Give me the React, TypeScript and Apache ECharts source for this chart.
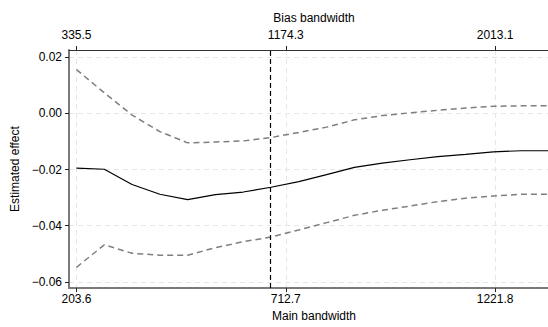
import React, { useEffect, useRef } from "react";
import * as echarts from "echarts";

const mainBandwidth = [203.6, 271.2, 338.8, 406.4, 474.0, 541.6, 609.2, 676.8, 744.4, 812.0, 879.6, 947.2, 1014.8, 1082.4, 1150.0, 1217.6, 1285.2, 1352.8];
const estimate = [-0.0195, -0.0199, -0.0253, -0.0288, -0.0307, -0.0289, -0.028, -0.0263, -0.0243, -0.0218, -0.0192, -0.0177, -0.0165, -0.0154, -0.0146, -0.0137, -0.0133, -0.0133];
const upperCI = [0.0156, 0.0073, -0.0006, -0.0065, -0.0105, -0.0102, -0.0098, -0.0086, -0.0068, -0.0049, -0.0023, -0.0008, 0.0002, 0.0011, 0.0019, 0.0025, 0.0027, 0.0027];
const lowerCI = [-0.0548, -0.0468, -0.0498, -0.0505, -0.0505, -0.0478, -0.0457, -0.044, -0.0415, -0.0389, -0.0363, -0.0345, -0.033, -0.0314, -0.0302, -0.0294, -0.0288, -0.0288];
const mainTicks = [203.6, 712.7, 1221.8];
const biasTicks = [335.5, 1174.3, 2013.1];
const yTicks = [-0.06, -0.04, -0.02, 0, 0.02];
const selectedBandwidth = 675;

const X_MIN = 185.4;
const X_MAX = 1377.3;
const BIAS_RATIO = 1.6477;
const FONT = "'Liberation Sans', Arial, Helvetica, sans-serif";

export default function App() {
  const ref = useRef<HTMLDivElement>(null);
  useEffect(() => {
    if (!ref.current) return;
    const chart = echarts.init(ref.current, null, { renderer: "svg" });
    const pairs = (ys: number[]) => mainBandwidth.map((x, i) => [x, ys[i]]);
    const textStyle = { fontFamily: FONT, fontSize: 12, color: "#000" };
    chart.setOption({
      animation: false,
      backgroundColor: "#fff",
      textStyle: { fontFamily: FONT },
      grid: { left: 69, top: 50, right: 1, bottom: 35, containLabel: false },
      xAxis: [
        {
          type: "value",
          position: "bottom",
          min: X_MIN,
          max: X_MAX,
          name: "Main bandwidth",
          nameLocation: "middle",
          nameGap: 21,
          nameTextStyle: textStyle,
          axisLine: { show: true, onZero: false, lineStyle: { color: "#7a7a7a", width: 2 } },
          axisTick: { show: true, length: 4, customValues: mainTicks, lineStyle: { color: "#222", width: 1 } },
          axisLabel: { customValues: mainTicks, margin: 5, ...textStyle, formatter: (v: number) => v.toFixed(1) },
          splitLine: { show: true, lineStyle: { color: "#e6e6e6", type: [5, 4], width: 1 } },
        },
        {
          type: "value",
          position: "top",
          min: X_MIN * BIAS_RATIO,
          max: X_MAX * BIAS_RATIO,
          name: "Bias bandwidth",
          nameLocation: "middle",
          nameGap: 26,
          nameTextStyle: textStyle,
          axisLine: { show: true, onZero: false, lineStyle: { color: "#333", width: 1 } },
          axisTick: { show: true, length: 4, customValues: biasTicks, lineStyle: { color: "#222", width: 1 } },
          axisLabel: { customValues: biasTicks, margin: 9, ...textStyle, formatter: (v: number) => v.toFixed(1) },
          splitLine: { show: false },
        },
      ],
      yAxis: {
        type: "value",
        min: -0.0622,
        max: 0.02256,
        name: "Estimated effect",
        nameLocation: "middle",
        nameGap: 45,
        nameTextStyle: textStyle,
        axisLine: { show: true, onZero: false, lineStyle: { color: "#7a7a7a", width: 2 } },
        axisTick: { show: true, length: 4, customValues: yTicks, lineStyle: { color: "#222", width: 1 } },
        axisLabel: {
          customValues: yTicks,
          margin: 7,
          ...textStyle,
          formatter: (v: number) => v.toFixed(2).replace("-", "\u2212"),
        },
        splitLine: { show: true, lineStyle: { color: "#e6e6e6", type: [5, 4], width: 1 } },
      },
      series: [
        {
          type: "line",
          name: "Upper CI",
          data: pairs(upperCI),
          symbol: "none",
          lineStyle: { color: "#7f7f7f", width: 1.5, type: [6, 4] },
        },
        {
          type: "line",
          name: "Lower CI",
          data: pairs(lowerCI),
          symbol: "none",
          lineStyle: { color: "#7f7f7f", width: 1.5, type: [6, 4] },
        },
        {
          type: "line",
          name: "Estimate",
          data: pairs(estimate),
          symbol: "none",
          lineStyle: { color: "#000", width: 1.2 },
          markLine: {
            silent: true,
            symbol: "none",
            label: { show: false },
            lineStyle: { color: "#000", type: [5, 3], width: 1.2 },
            data: [{ xAxis: selectedBandwidth }],
          },
        },
      ],
    });
    return () => chart.dispose();
  }, []);
  return (
    <div
      style={{ position: "fixed", left: 0, top: 0, width: 548, height: 327, overflow: "hidden", background: "#fff" }}
    >
      <div ref={ref} style={{ width: 560, height: 327 }} />
    </div>
  );
}
